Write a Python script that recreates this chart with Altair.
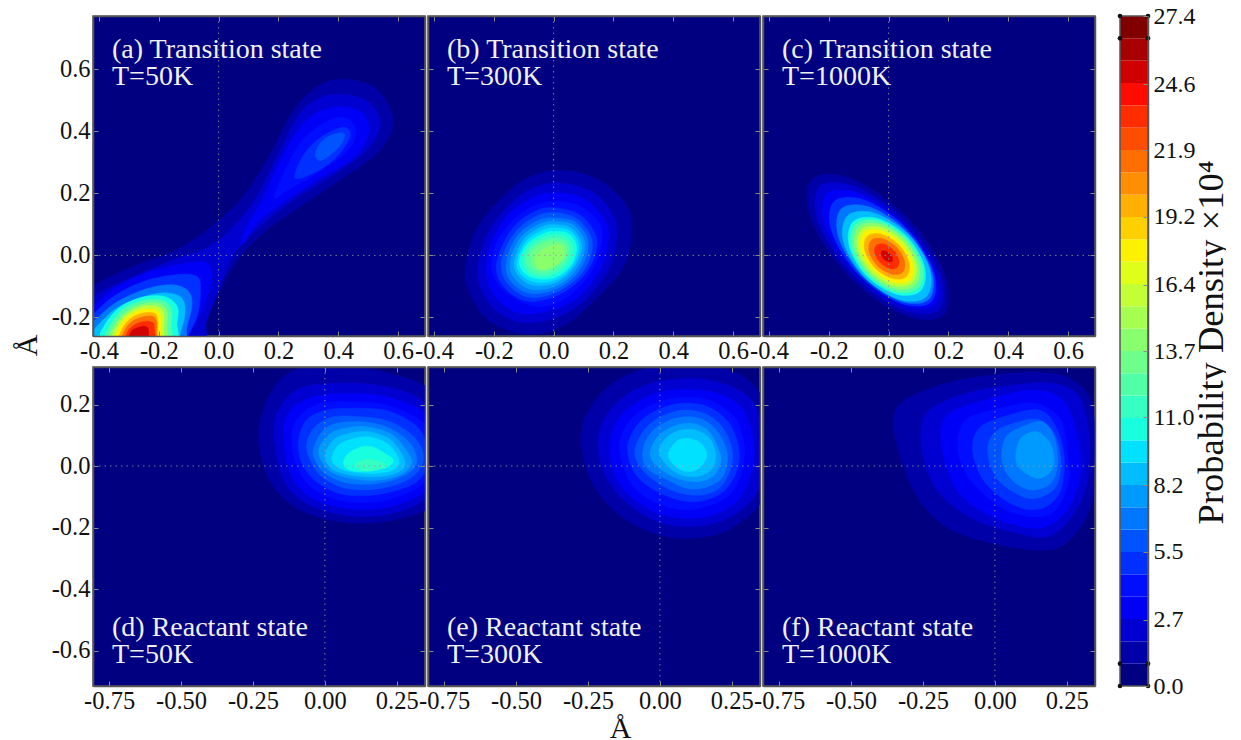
import altair as alt
import pandas as pd

BAND_COLORS = ["#000080","#0000a8","#0000d0","#0000f7","#000dff","#0030ff","#0054ff","#0077ff","#009aff","#00bdff",
               "#00e0ff","#18ffdf","#35ffc2","#51ffa6","#6dff89","#89ff6d","#a6ff50","#c2ff35","#dfff18","#fbf100",
               "#ffd000","#ffb000","#ff8e00","#ff6e00","#ff4d00","#ff2d00","#ff0c00","#d00000","#a80000","#800000"]
BAND_EDGES = [0,.913,1.827,2.74,3.653,4.567,5.48,6.393,7.307,8.22,9.133,10.047,10.96,11.873,12.787,13.7,14.613,
              15.527,16.44,17.353,18.267,19.18,20.093,21.007,21.92,22.833,23.747,24.66,25.573,26.487,27.4]
CBAR_TICKS = [0,2.7,5.5,8.2,11.0,13.7,16.4,19.2,21.9,24.6,27.4]
CBAR_DOTS_Y = [0,.913,26.487,27.4]
CBAR_DOTS_X = [0,1]

TOP_X_TICKS = [-0.4,-0.2,0.0,0.2,0.4,0.6]
TOP_Y_TICKS = [-0.2,0.0,0.2,0.4,0.6]
BOT_X_TICKS = [-0.75,-0.50,-0.25,0.0,0.25]
BOT_Y_TICKS = [-0.6,-0.4,-0.2,0.0,0.2]
TOP_X_RANGE = [-0.42,0.69]
TOP_Y_RANGE = [-0.26,0.772]
BOT_X_RANGE = [-0.806,0.348]
BOT_Y_RANGE = [-0.715,0.322]

A_CONTOURS = [
 (1,[(-.440,-.143),(-.420,-.100),(-.284,-.035),(-.151,.013),(-.039,.083),(.072,.179),(.162,.308),(.251,.469),(.340,.550),(.429,.568),(.530,.534),(.585,.432),(.530,.330),(.407,.244),(.273,.158),(.162,.083),(.072,-.003),(.006,-.111),(-.061,-.250),(-.078,-.304),(-.440,-.304)]),
 (2,[(-.420,-.132),(-.284,-.068),(-.151,-.014),(-.039,.024),(.050,.093),(.128,.190),(.195,.319),(.273,.459),(.351,.512),(.429,.518),(.507,.491),(.541,.421),(.496,.340),(.385,.260),(.251,.179),(.151,.104),(.061,.018),(.017,-.068),(-.039,-.207),(-.078,-.304),(-.440,-.304),(-.440,-.164)]),
 (3,[(.089,.083),(.151,.190),(.217,.330),(.295,.437),(.385,.478),(.474,.464),(.502,.400),(.457,.319),(.340,.249),(.229,.179),(.139,.115),(.078,.034)]),
 (4,[(.186,.185),(.217,.265),(.273,.362),(.340,.421),(.418,.446),(.460,.400),(.429,.335),(.329,.265),(.229,.209)]),
 (5,[(.256,.249),(.284,.324),(.346,.383),(.418,.413),(.440,.383),(.396,.319),(.329,.271)]),
 (6,[(.323,.324),(.340,.362),(.373,.386),(.418,.394),(.412,.362),(.373,.324),(.340,.306)]),
 (3,[(-.420,-.164),(-.340,-.100),(-.229,-.052),(-.106,-.025),(-.039,-.025),(-.022,-.068),(-.050,-.164),(-.095,-.250),(-.117,-.304),(-.440,-.304),(-.440,-.186)]),
 (5,[(-.420,-.191),(-.351,-.132),(-.251,-.084),(-.139,-.062),(-.072,-.068),(-.061,-.111),(-.072,-.197),(-.117,-.283),(-.134,-.315),(-.440,-.315),(-.440,-.207)]),
 (7,[(-.412,-.207),(-.346,-.154),(-.251,-.111),(-.162,-.095),(-.106,-.111),(-.089,-.154),(-.106,-.229),(-.139,-.315),(-.440,-.315),(-.435,-.223)]),
 (9,[(-.401,-.223),(-.340,-.170),(-.251,-.133),(-.173,-.121),(-.123,-.138),(-.112,-.186),(-.128,-.250),(-.151,-.315),(-.430,-.315),(-.419,-.250)]),
 (11,[(-.396,-.250),(-.340,-.175),(-.262,-.137),(-.184,-.132),(-.139,-.164),(-.139,-.218),(-.156,-.315),(-.412,-.315)]),
 (13,[(-.376,-.250),(-.329,-.181),(-.262,-.148),(-.195,-.143),(-.159,-.170),(-.159,-.223),(-.173,-.315),(-.396,-.315)]),
 (15,[(-.362,-.250),(-.320,-.191),(-.262,-.159),(-.201,-.154),(-.173,-.180),(-.173,-.229),(-.184,-.315),(-.379,-.315)]),
 (17,[(-.351,-.250),(-.315,-.197),(-.262,-.167),(-.206,-.165),(-.184,-.186),(-.184,-.234),(-.193,-.315),(-.365,-.315)]),
 (19,[(-.342,-.250),(-.309,-.202),(-.262,-.177),(-.212,-.175),(-.193,-.197),(-.193,-.240),(-.200,-.315),(-.357,-.315)]),
 (21,[(-.329,-.250),(-.301,-.209),(-.262,-.188),(-.217,-.186),(-.204,-.205),(-.204,-.245),(-.208,-.315),(-.342,-.315)]),
 (23,[(-.318,-.250),(-.293,-.216),(-.256,-.199),(-.220,-.197),(-.208,-.213),(-.208,-.250),(-.215,-.315),(-.331,-.315)]),
 (25,[(-.307,-.252),(-.284,-.226),(-.251,-.213),(-.223,-.216),(-.215,-.234),(-.220,-.315),(-.318,-.315)]),
 (27,[(-.295,-.250),(-.273,-.234),(-.245,-.229),(-.234,-.245),(-.240,-.315),(-.307,-.315)]),
]
B_CONTOURS = [
 (1,[(.038,.274),(.149,.244),(.233,.174),(.261,.104),(.239,-.025),(.138,-.143),(.027,-.229),(-.096,-.253),(-.219,-.208),(-.285,-.111),(-.293,-.025),(-.252,.094),(-.152,.206),(-.062,.260)]),
 (2,[(.027,.233),(.127,.206),(.188,.147),(.211,.083),(.188,-.035),(.105,-.143),(.004,-.202),(-.107,-.216),(-.196,-.175),(-.246,-.100),(-.252,-.025),(-.213,.083),(-.129,.180),(-.051,.223)]),
 (3,[(.021,.201),(.105,.180),(.166,.120),(.183,.061),(.155,-.046),(.071,-.143),(-.029,-.181),(-.118,-.186),(-.191,-.138),(-.224,-.068),(-.213,.029),(-.152,.131),(-.062,.190)]),
 (4,[(.018,.174),(.099,.153),(.161,.083),(.133,-.041),(.049,-.132),(-.051,-.165),(-.157,-.122),(-.207,-.046),(-.191,.040),(-.129,.120),(-.057,.163)]),
 (5,[(.010,.153),(.094,.126),(.144,.051),(.116,-.046),(.027,-.122),(-.085,-.148),(-.168,-.100),(-.191,-.025),(-.141,.083),(-.062,.142)]),
 (6,[(.013,.137),(.082,.115),(.129,.045),(.103,-.046),(.021,-.113),(-.079,-.135),(-.154,-.091),(-.174,-.019),(-.129,.074),(-.054,.128)]),
 (7,[(.016,.120),(.077,.104),(.116,.040),(.088,-.046),(.016,-.105),(-.079,-.122),(-.146,-.080),(-.157,-.014),(-.118,.067),(-.046,.115)]),
 (8,[(.016,.109),(.071,.094),(.105,.034),(.077,-.044),(.010,-.098),(-.076,-.109),(-.135,-.068),(-.143,-.012),(-.107,.061),(-.040,.104)]),
 (9,[(.016,.099),(.066,.083),(.094,.029),(.066,-.041),(.004,-.089),(-.074,-.095),(-.124,-.057),(-.129,-.009),(-.096,.056),(-.035,.094)]),
 (10,[(.016,.088),(.060,.075),(.085,.027),(.060,-.038),(.002,-.081),(-.071,-.084),(-.116,-.052),(-.120,-.009),(-.090,.048),(-.032,.083)]),
 (11,[(.016,.077),(.055,.067),(.077,.024),(.055,-.035),(-.001,-.073),(-.068,-.073),(-.107,-.046),(-.113,-.009),(-.085,.040),(-.029,.072)]),
 (12,[(.013,.067),(.049,.056),(.066,.018),(.043,-.033),(-.007,-.066),(-.065,-.066),(-.098,-.038),(-.101,-.003),(-.074,.038),(-.027,.063)]),
 (13,[(.010,.056),(.043,.045),(.055,.013),(.032,-.030),(-.012,-.057),(-.062,-.057),(-.090,-.030),(-.090,.002),(-.062,.034),(-.023,.053)]),
 (14,[(.010,.045),(.038,.034),(.043,.005),(.018,-.027),(-.020,-.048),(-.057,-.046),(-.076,-.023),(-.074,.010),(-.046,.034),(-.016,.045)]),
 (15,[(.010,.034),(.032,.024),(.032,-.009),(-.001,-.035),(-.035,-.046),(-.060,-.030),(-.060,-.003),(-.035,.020)]),
]
C_CONTOURS = [
 (1,[(-.255,.246),(-.119,.245),(.064,.120),(.187,-.062),(.183,-.192),(.047,-.191),(-.136,-.065),(-.259,.116)]),
 (2,[(-.231,.222),(-.108,.220),(.058,.106),(.170,-.058),(.167,-.176),(.044,-.174),(-.122,-.060),(-.234,.104)]),
 (3,[(-.207,.199),(-.096,.198),(.054,.095),(.155,-.053),(.151,-.159),(.040,-.158),(-.110,-.055),(-.211,.093)]),
 (5,[(-.182,.174),(-.077,.177),(.060,.086),(.149,-.050),(.142,-.150),(.037,-.153),(-.100,-.062),(-.189,.074)]),
 (7,[(-.158,.150),(-.061,.155),(.064,.074),(.143,-.049),(.134,-.142),(.037,-.147),(-.088,-.066),(-.167,.057)]),
 (9,[(-.137,.128),(-.046,.136),(.068,.065),(.138,-.047),(.125,-.134),(.034,-.142),(-.080,-.071),(-.150,.041)]),
 (11,[(-.118,.109),(-.037,.119),(.062,.060),(.120,-.037),(.106,-.115),(.025,-.125),(-.074,-.066),(-.132,.031)]),
 (13,[(-.110,.101),(-.034,.111),(.058,.056),(.112,-.035),(.098,-.107),(.022,-.117),(-.070,-.062),(-.124,.029)]),
 (15,[(-.100,.091),(-.031,.101),(.053,.052),(.101,-.030),(.088,-.097),(.019,-.107),(-.065,-.058),(-.113,.024)]),
 (17,[(-.091,.082),(-.028,.091),(.047,.046),(.091,-.028),(.079,-.088),(.016,-.097),(-.059,-.052),(-.103,.022)]),
 (19,[(-.083,.074),(-.028,.081),(.040,.040),(.080,-.027),(.071,-.080),(.016,-.087),(-.052,-.046),(-.092,.021)]),
 (21,[(-.071,.062),(-.024,.068),(.034,.034),(.068,-.023),(.059,-.068),(.012,-.074),(-.046,-.040),(-.080,.017)]),
 (23,[(-.058,.049),(-.020,.054),(.026,.027),(.053,-.018),(.046,-.055),(.008,-.060),(-.038,-.033),(-.065,.012)]),
 (25,[(-.041,.032),(-.015,.036),(.016,.017),(.034,-.014),(.029,-.038),(.003,-.042),(-.028,-.023),(-.046,.008)]),
 (27,[(-.023,.014),(-.011,.014),(.004,.006),(.013,-.008),(.011,-.020),(-.001,-.020),(-.016,-.012),(-.024,.003)]),
]
D_CONTOURS = [
 (1,[(-.230,.112),(-.201,.215),(-.144,.291),(-.051,.323),(.100,.323),(.262,.291),(.377,.236),(.435,.074),(.424,-.089),(.354,-.143),(.204,-.181),(.053,-.181),(-.086,-.143),(-.178,-.067),(-.219,.020)]),
 (2,[(-.178,.106),(-.155,.193),(-.086,.253),(.030,.269),(.181,.263),(.319,.225),(.400,.128),(.400,-.013),(.343,-.111),(.204,-.159),(.065,-.159),(-.063,-.121),(-.144,-.046)]),
 (3,[(-.144,.100),(-.120,.182),(-.039,.225),(.076,.236),(.215,.225),(.354,.166),(.389,.052),(.366,-.067),(.227,-.132),(.076,-.138),(-.051,-.100),(-.120,-.024)]),
 (4,[(-.115,.095),(-.091,.160),(-.016,.204),(.088,.209),(.215,.198),(.343,.139),(.372,.030),(.343,-.056),(.215,-.111),(.076,-.116),(-.034,-.078),(-.097,-.002)]),
 (5,[(-.091,.085),(-.063,.150),(.007,.182),(.111,.188),(.227,.177),(.331,.117),(.360,.020),(.319,-.051),(.204,-.089),(.076,-.094),(-.022,-.056),(-.080,.009)]),
 (6,[(-.063,.074),(-.034,.128),(.030,.160),(.123,.160),(.227,.144),(.314,.090),(.343,.020),(.296,-.040),(.192,-.073),(.076,-.073),(-.010,-.035),(-.051,.020)]),
 (7,[(-.039,.057),(-.010,.112),(.042,.139),(.134,.144),(.227,.122),(.296,.074),(.319,.014),(.279,-.029),(.186,-.056),(.082,-.056),(.001,-.024),(-.034,.020)]),
 (8,[(-.022,.047),(.013,.101),(.065,.122),(.140,.128),(.227,.106),(.279,.057),(.302,.009),(.262,-.029),(.181,-.046),(.088,-.040),(.013,-.013)]),
 (9,[(.001,.036),(.030,.085),(.076,.104),(.146,.112),(.221,.090),(.262,.047),(.279,.003),(.244,-.024),(.175,-.035),(.088,-.029),(.024,-.008)]),
 (10,[(.024,.025),(.047,.068),(.094,.088),(.152,.095),(.215,.074),(.250,.036),(.256,.003),(.221,-.018),(.157,-.024),(.088,-.018),(.042,-.002)]),
 (11,[(.065,.014),(.082,.041),(.128,.063),(.169,.061),(.209,.041),(.238,.020),(.221,-.002),(.169,-.013),(.117,-.018),(.076,-.008)]),
 (12,[(.105,.007),(.146,.022),(.192,.014),(.215,.000),(.181,-.013),(.134,-.015)]),
]
E_CONTOURS = [
 (1,[(-.274,.095),(-.240,.193),(-.147,.280),(-.008,.323),(.189,.323),(.304,.280),(.385,.171),(.397,-.013),(.351,-.121),(.235,-.208),(.108,-.235),(-.020,-.219),(-.147,-.154),(-.240,-.046)]),
 (2,[(-.216,.079),(-.182,.171),(-.089,.247),(.027,.280),(.166,.280),(.293,.236),(.351,.150),(.368,.009),(.328,-.100),(.235,-.170),(.108,-.197),(-.020,-.176),(-.124,-.111),(-.193,-.024)]),
 (3,[(-.176,.063),(-.147,.150),(-.066,.215),(.038,.247),(.177,.242),(.281,.193),(.322,.095),(.322,-.002),(.281,-.100),(.200,-.154),(.096,-.170),(-.020,-.149),(-.112,-.089),(-.159,-.024)]),
 (4,[(-.141,.057),(-.112,.139),(-.043,.193),(.050,.220),(.166,.215),(.258,.160),(.293,.074),(.287,-.013),(.247,-.089),(.177,-.127),(.084,-.143),(-.020,-.116),(-.101,-.056)]),
 (5,[(-.112,.052),(-.083,.128),(-.020,.177),(.073,.204),(.166,.193),(.241,.139),(.275,.052),(.264,-.024),(.212,-.089),(.119,-.116),(.015,-.094),(-.078,-.035)]),
 (6,[(-.087,.047),(-.054,.117),(.003,.160),(.084,.182),(.166,.166),(.224,.117),(.252,.041),(.235,-.035),(.189,-.083),(.108,-.094),(.015,-.067),(-.060,-.013)]),
 (7,[(-.060,.041),(-.037,.101),(.021,.144),(.102,.160),(.171,.139),(.218,.085),(.235,.025),(.218,-.035),(.166,-.067),(.096,-.073),(.015,-.040),(-.043,-.008)]),
 (8,[(-.034,.041),(-.008,.095),(.044,.128),(.108,.139),(.166,.117),(.200,.063),(.212,.020),(.189,-.029),(.131,-.051),(.061,-.040),(-.008,-.002)]),
 (9,[(-.002,.041),(.021,.090),(.073,.117),(.131,.115),(.177,.085),(.194,.030),(.177,-.013),(.119,-.035),(.050,-.018)]),
 (10,[(.029,.036),(.056,.079),(.096,.090),(.142,.074),(.163,.036),(.142,-.002),(.102,-.018),(.056,-.002)]),
]
F_CONTOURS = [
 (1,[(-.352,.133),(-.321,.209),(-.170,.269),(-.008,.296),(.154,.304),(.270,.280),(.339,.193),(.345,-.013),(.328,-.143),(.247,-.251),(.142,-.273),(-.031,-.246),(-.170,-.197),(-.263,-.111),(-.321,.009)]),
 (2,[(-.257,.106),(-.228,.182),(-.101,.236),(.061,.263),(.200,.269),(.293,.225),(.328,.095),(.322,-.046),(.275,-.154),(.189,-.228),(.084,-.219),(-.066,-.176),(-.182,-.100),(-.240,-.002)]),
 (3,[(-.188,.090),(-.159,.171),(-.031,.215),(.131,.247),(.235,.215),(.281,.117),(.299,-.013),(.258,-.132),(.177,-.197),(.073,-.192),(-.054,-.143),(-.147,-.056)]),
 (4,[(-.130,.068),(-.101,.150),(.015,.188),(.142,.204),(.229,.150),(.252,.041),(.258,-.046),(.212,-.143),(.142,-.165),(.038,-.143),(-.066,-.067),(-.112,-.002)]),
 (5,[(-.078,.063),(-.049,.128),(.050,.166),(.154,.182),(.212,.128),(.241,.030),(.229,-.078),(.177,-.132),(.096,-.138),(.003,-.089),(-.054,-.024)]),
 (6,[(-.025,.052),(.003,.112),(.084,.144),(.154,.150),(.206,.106),(.229,.020),(.212,-.067),(.142,-.105),(.073,-.089),(.003,-.035)]),
 (7,[(.024,.047),(.044,.101),(.108,.133),(.166,.144),(.206,.095),(.218,.009),(.194,-.056),(.131,-.078),(.073,-.056),(.032,-.008)]),
 (8,[(.073,.036),(.090,.090),(.142,.112),(.189,.079),(.206,.025),(.194,-.018),(.154,-.040),(.108,-.024),(.079,.003)]),
]

TOP_LABELS = [["(a) Transition state","T=50K"],["(b) Transition state","T=300K"],["(c) Transition state","T=1000K"]]
BOT_LABELS = [["(d) Reactant state","T=50K"],["(e) Reactant state","T=300K"],["(f) Reactant state","T=1000K"]]

SERIF = "Liberation Serif"
GREY = "#8a8a8a"
FRAME = "#555555"
INWARD = {"expr": "-5"}
LABEL_EXPR = "replace(replace(format(datum.value,'{fmt}'),'\u2212','-'),'\u2013','-')"


def contour_frame(contours):
    rows = []
    for n, (band, pts) in enumerate(contours):
        for i, (x, y) in enumerate(pts):
            rows.append({"poly": f"p{n:03d}", "i": i, "x": x, "y": y, "c": BAND_COLORS[band]})
    return pd.DataFrame(rows)


def colorbar_layers():
    cb_df = pd.DataFrame({"lo": BAND_EDGES[:-1], "hi": BAND_EDGES[1:], "c": BAND_COLORS,
                          "x0": CBAR_DOTS_X[0], "x1": CBAR_DOTS_X[1]})
    cb_y = alt.Scale(domain=[0, 27.4], nice=False, zero=False, range=[670, 0])
    cb_x = alt.Scale(domain=[0, 1], nice=False, zero=False, range=[357, 385])
    rect = alt.Chart(cb_df).mark_rect().encode(
        x=alt.X("x0:Q", scale=cb_x, axis=None),
        x2="x1:Q",
        y=alt.Y("lo:Q", scale=cb_y, axis=alt.Axis(
            orient="right", offset=53, values=CBAR_TICKS, grid=False, domainColor=FRAME, domainWidth=1.5,
            tickColor=GREY, tickSize=INWARD, zindex=1, labelFont=SERIF, labelFontSize=24, labelColor="#111111",
            labelPadding=10, labelOverlap=False, labelBound=False, labelFlush=False, format=".1f",
            title="Probability Density ×10⁴", titleFont=SERIF, titleFontSize=36.5, titleFontWeight="normal",
            titleAngle=270, titleColor="#111111", titleX=82, titleY=326)),
        y2="hi:Q",
        fill=alt.Fill("c:N", scale=None),
    )
    frame = alt.Chart(pd.DataFrame({"lo": [BAND_EDGES[0]], "hi": [BAND_EDGES[-1]], "x0": [0], "x1": [1]})).mark_rect(
        fillOpacity=0, stroke=FRAME, strokeWidth=1.5
    ).encode(x=alt.X("x0:Q", scale=cb_x, axis=None), x2="x1:Q",
             y=alt.Y("lo:Q", scale=cb_y, axis=None), y2="hi:Q")
    dots = pd.DataFrame([{"x": x, "y": y} for x in CBAR_DOTS_X for y in CBAR_DOTS_Y])
    pts = alt.Chart(dots).mark_point(filled=True, color="#111111", size=22, opacity=1).encode(
        x=alt.X("x:Q", scale=cb_x, axis=None),
        y=alt.Y("y:Q", scale=cb_y, axis=None),
    )
    return [rect, frame, pts]


def panel(contours, labels, x_rng, y_rng, x_ticks, y_ticks, fmt, w, h, show_y, x_title=None, y_title=None,
          ty=(34, 61), extra=None):
    xs = alt.Scale(domain=x_rng, nice=False, zero=False)
    ys = alt.Scale(domain=y_rng, nice=False, zero=False)
    ax_common = dict(grid=False, domainColor=FRAME, domainWidth=1.5, tickColor=GREY, tickWidth=1,
                     tickSize=INWARD, zindex=1, labelFont=SERIF, labelFontSize=24.5, labelColor="#111111",
                     labelOverlap=False, labelBound=False, labelFlush=False)
    x_axis = dict(ax_common, orient="bottom", values=x_ticks, labelPadding=8,
                  labelExpr=LABEL_EXPR.replace("{fmt}", fmt))
    if x_title:
        x_axis.update(title=x_title, titleFont=SERIF, titleFontSize=30, titleFontWeight="normal",
                      titleX=x_title_pos[0], titleY=x_title_pos[1], titleColor="#111111")
    else:
        x_axis.update(title=None)
    y_axis = dict(ax_common, orient="left", values=y_ticks, labels=show_y, labelPadding=8,
                  labelExpr=LABEL_EXPR.replace("{fmt}", ".1f"))
    if y_title:
        y_axis.update(title=y_title, titleFont=SERIF, titleFontSize=30, titleFontWeight="normal",
                      titleX=y_title_pos[0], titleY=y_title_pos[1], titleAngle=270, titleColor="#111111")
    else:
        y_axis.update(title=None)
    poly = alt.Chart(contour_frame(contours)).mark_line(
        interpolate="cardinal-closed", clip=True, strokeWidth=0.5, filled=False
    ).encode(
        x=alt.X("x:Q", scale=xs, axis=alt.Axis(**x_axis)),
        y=alt.Y("y:Q", scale=ys, axis=alt.Axis(**y_axis)),
        detail="poly:N",
        order=alt.Order("i:Q"),
        fill=alt.Fill("c:N", scale=None),
        stroke=alt.Stroke("c:N", scale=None),
    )
    zero = pd.DataFrame({"v": [0.0]})
    top_axis = dict(ax_common, orient="top", values=x_ticks, labels=False, title=None)
    right_axis = dict(ax_common, orient="right", values=y_ticks, labels=False, title=None)
    dash = dict(color="#9a9a9a", strokeDash=[1.5, 4], strokeWidth=1, opacity=0.8)
    vrule = alt.Chart(zero).mark_rule(**dash).encode(x=alt.X("v:Q", scale=xs, axis=alt.Axis(**top_axis)))
    hrule = alt.Chart(zero).mark_rule(**dash).encode(y=alt.Y("v:Q", scale=ys, axis=alt.Axis(**right_axis)))
    texts = [
        alt.Chart(pd.DataFrame({"t": [lab]})).mark_text(
            font=SERIF, fontSize=28, color="#f0f0f0", align="left", baseline="middle"
        ).encode(text="t:N", x=alt.value(19), y=alt.value(yy))
        for lab, yy in zip(labels, ty)
    ]
    layers = [poly, vrule, hrule, *texts, *(extra or [])]
    out = alt.layer(*layers).resolve_axis(x="independent", y="independent")
    if extra:
        out = out.resolve_scale(x="independent", y="independent")
    return out.properties(width=w, height=h)


x_title_pos = (192, 27)
y_title_pos = (-51, -22)

W, H1, H2 = 332, 320, 319
BOT_TY = (261, 288)
a = panel(A_CONTOURS, TOP_LABELS[0], TOP_X_RANGE, TOP_Y_RANGE, TOP_X_TICKS, TOP_Y_TICKS, ".1f", W, H1, True)
b = panel(B_CONTOURS, TOP_LABELS[1], TOP_X_RANGE, TOP_Y_RANGE, TOP_X_TICKS, TOP_Y_TICKS, ".1f", W, H1, False)
c = panel(C_CONTOURS, TOP_LABELS[2], TOP_X_RANGE, TOP_Y_RANGE, TOP_X_TICKS, TOP_Y_TICKS, ".1f", W, H1, False,
          extra=colorbar_layers())
d = panel(D_CONTOURS, BOT_LABELS[0], BOT_X_RANGE, BOT_Y_RANGE, BOT_X_TICKS, BOT_Y_TICKS, ".2f", W, H2, True, y_title="Å", ty=BOT_TY)
e = panel(E_CONTOURS, BOT_LABELS[1], BOT_X_RANGE, BOT_Y_RANGE, BOT_X_TICKS, BOT_Y_TICKS, ".2f", W, H2, False, x_title="Å", ty=BOT_TY)
f = panel(F_CONTOURS, BOT_LABELS[2], BOT_X_RANGE, BOT_Y_RANGE, BOT_X_TICKS, BOT_Y_TICKS, ".2f", W, H2, False, ty=BOT_TY)

chart = alt.concat(a, b, c, d, e, f, columns=3, spacing={"row": 31, "column": 3}, bounds="flush").properties(
    padding={"left": 3, "top": -5, "right": -5, "bottom": 20}
).configure_view(fill="#000080", stroke=FRAME, strokeWidth=1.5)

chart.save("out.html", embed_options={"renderer": "svg", "actions": False})
